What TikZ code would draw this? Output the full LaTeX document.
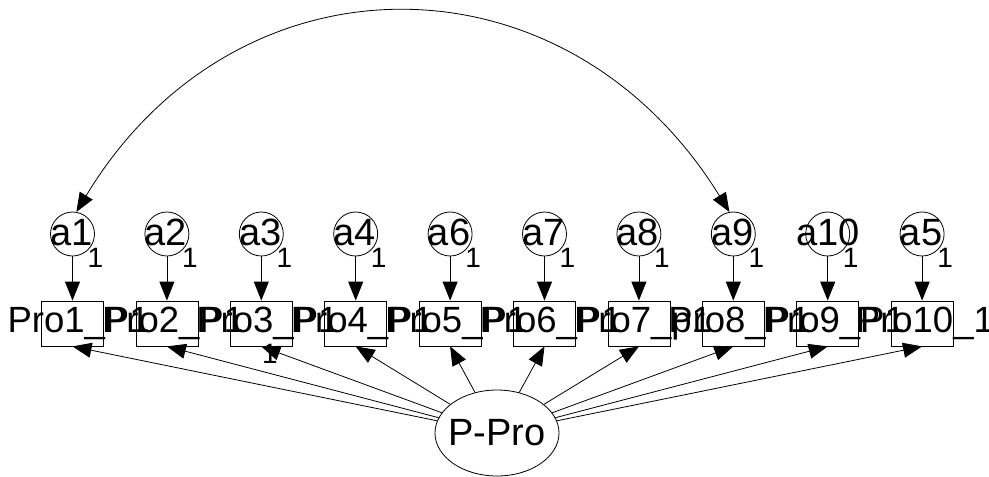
\documentclass[tikz,border=0pt]{standalone}
\usepackage{fontspec}
\setmainfont{Liberation Sans}
\usetikzlibrary{arrows.meta,shapes.geometric}
\begin{document}
\begin{tikzpicture}[x=1pt,y=-1pt,line width=0.8pt,
  tip/.style={-{Triangle[length=19pt,width=15pt]}},
  bothtips/.style={{Triangle[length=19pt,width=15pt]}-{Triangle[length=19pt,width=15pt]}},
  errc/.style={circle,draw,minimum size=44pt,inner sep=0pt},
  obs/.style={rectangle,draw,minimum width=62pt,minimum height=45pt,inner sep=0pt},
  latent/.style={ellipse,draw,minimum width=124pt,minimum height=86pt,inner sep=0pt},
  boxtxt/.style={font=\fontsize{36.5}{40}\selectfont,inner sep=0pt,anchor=base west},
  circtxt/.style={font=\fontsize{38}{42}\selectfont,inner sep=0pt,anchor=base},
  onetxt/.style={font=\fontsize{28}{32}\selectfont,inner sep=0pt,anchor=base}]
\useasboundingbox (0,0) rectangle (989,477);

% error circles
\node[errc] (a1)  at (72.5,234) {};
\node[errc] (a2)  at (166.9,234) {};
\node[errc] (a3)  at (261.3,234) {};
\node[errc] (a4)  at (355.7,234) {};
\node[errc] (a6)  at (450.1,234) {};
\node[errc] (a7)  at (544.5,234) {};
\node[errc] (a8)  at (638.9,234) {};
\node[errc] (a9)  at (733.3,234) {};
\node[errc] (a10) at (827.7,234) {};
\node[errc] (a5)  at (922.1,234) {};

% observed boxes
\node[obs] (b1)  at (72.5,323.5) {};
\node[obs] (b2)  at (166.9,323.5) {};
\node[obs] (b3)  at (261.3,323.5) {};
\node[obs] (b4)  at (355.7,323.5) {};
\node[obs] (b5)  at (450.1,323.5) {};
\node[obs] (b6)  at (544.5,323.5) {};
\node[obs] (b7)  at (638.9,323.5) {};
\node[obs] (b8)  at (733.3,323.5) {};
\node[obs] (b9)  at (827.7,323.5) {};
\node[obs] (b10) at (922.1,323.5) {};

% latent
\node[latent] (pp) at (497,433) {};

% error -> box arrows
\foreach \e/\b in {a1/b1,a2/b2,a3/b3,a4/b4,a6/b5,a7/b6,a8/b7,a9/b8,a10/b9,a5/b10}
  \draw[tip] (\e) -- (\b);

% latent -> box arrows
\foreach \b in {b1,b2,b3,b4,b5,b6,b7,b8,b9,b10}
  \draw[tip] (pp) -- (\b.south);

% covariance arc
\draw[bothtips] (a1.80) .. controls (236,-53) and (566,-53) .. (a9.100);

% circle texts
\node[circtxt] (ta1)  at (71.5,245) {a1};
\node[circtxt] (ta2)  at (165.9,245) {a2};
\node[circtxt] (ta3)  at (260.3,245) {a3};
\node[circtxt] (ta4)  at (354.7,245) {a4};
\node[circtxt] (ta6)  at (449.1,245) {a6};
\node[circtxt] (ta7)  at (543.5,245) {a7};
\node[circtxt] (ta8)  at (637.9,245) {a8};
\node[circtxt] (ta9)  at (732.3,245) {a9};
\node[circtxt] (ta10) at (827.7,245) {a10};
\node[circtxt] (ta5)  at (921.1,245) {a5};

% regression weight labels "1"
\node[onetxt] (w1)  at (95.5,267) {1};
\node[onetxt] (w2)  at (189.9,267) {1};
\node[onetxt] (w3)  at (284.3,267) {1};
\node[onetxt] (w4)  at (378.7,267) {1};
\node[onetxt] (w6)  at (473.1,267) {1};
\node[onetxt] (w7)  at (567.5,267) {1};
\node[onetxt] (w8)  at (661.9,267) {1};
\node[onetxt] (w9)  at (756.3,267) {1};
\node[onetxt] (w10) at (850.7,267) {1};
\node[onetxt] (w5)  at (945.1,267) {1};
\node[onetxt] (w0)  at (270,363) {1};

% box texts
\node[boxtxt] (t1)  at (7.2,332) {Pro1\_P1};
\node[boxtxt] (t2)  at (101.6,332) {Pro2\_P1};
\node[boxtxt] (t3)  at (196.0,332) {Pro3\_P1};
\node[boxtxt] (t4)  at (290.4,332) {Pro4\_P1};
\node[boxtxt] (t5)  at (384.8,332) {Pro5\_P1};
\node[boxtxt] (t6)  at (479.2,332) {Pro6\_P1};
\node[boxtxt] (t7)  at (573.6,332) {Pro7\_p1};
\node[boxtxt] (t8)  at (668.0,332) {Pro8\_P1};
\node[boxtxt] (t9)  at (762.4,332) {Pro9\_P1};
\node[boxtxt] (t10) at (855.5,332) {Pro10\_1};

% latent text
\node[circtxt] (tpp) at (497,445) {P-Pro};
\end{tikzpicture}
\end{document}
